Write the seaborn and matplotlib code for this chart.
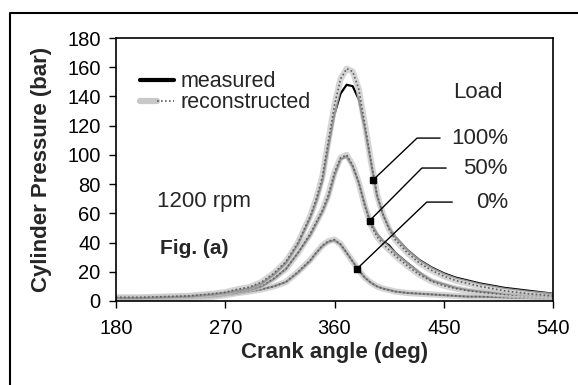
import matplotlib
matplotlib.use('Agg')
import matplotlib.pyplot as plt
import seaborn as sns
from matplotlib.lines import Line2D
from matplotlib.legend_handler import HandlerTuple

# --- data ---
ANGLE = [180, 200, 220, 240, 260, 270, 280, 290, 300, 310, 320, 330, 340, 345, 350, 355, 360, 365,
         370, 375, 380, 385, 390, 395, 400, 405, 410, 420, 430, 440, 450, 460, 470, 480, 500, 520, 540]

P100_MEAS = [2, 2, 2.5, 3, 4.5, 5.5, 7, 8.5, 12, 18, 26, 39, 57, 68, 82, 106, 128, 142,
             148, 147, 138, 118, 95, 72, 59, 50, 44, 35, 28, 23, 19, 16, 14, 12, 9, 7, 5]
P100_REC = [2.5, 2.5, 3, 3.5, 5, 6, 8, 9.5, 13, 19, 27, 40, 58, 70, 85, 110, 134, 152,
            159, 157, 145, 121, 96, 73, 59, 49, 42, 33, 26, 21, 17, 14, 12, 10, 7, 5, 3.5]
P50_MEAS = [1.5, 1.5, 2, 2.5, 3.5, 4.5, 6, 7.5, 10, 15, 22, 33, 45, 53, 61, 71, 86, 97,
            99, 92, 81, 66, 53, 46, 41, 38, 33, 26, 19.5, 14, 11.5, 9, 7.5, 6.5, 5, 4, 3]
P50_REC = [2, 2, 2.5, 3, 4, 5, 6.5, 8, 10.5, 15.5, 22, 33, 46, 54, 62, 73, 88, 98,
           100, 93, 81, 65, 52, 44, 39, 35, 31, 24, 18, 13.5, 10.5, 8.5, 7, 6, 4.5, 3.5, 2.5]
P0_MEAS = [1.5, 1.5, 1.5, 2, 3, 4, 5, 6.5, 8, 10, 13, 19.5, 27.5, 33, 37.5, 40.5, 41.5, 38.5,
           33, 27, 21, 16, 12.5, 10, 8.5, 7.5, 6.5, 5.5, 5, 4.5, 4, 3.5, 3, 3, 2.5, 2, 1.5]
P0_REC = [1.5, 1.5, 1.5, 2, 3, 4, 5.5, 6.5, 8, 10, 13, 20, 28, 33, 38, 41, 42, 39,
          33, 27, 21, 16, 12.5, 10, 8.5, 7.5, 6.5, 5.5, 5, 4.5, 4, 3.5, 3, 3, 2.5, 2, 1.5]

LOAD_LABELS = ['100%', '50%', '0%']
MARK_ANGLE = [392, 389, 378.5]
MARK_P = [83, 55, 22]
CORNER_ANGLE = [428, 432, 436]
LEADER_END = [447, 452, 457]
LEADER_P = [111.5, 91, 67.7]
LABEL_ANGLE = [456, 466, 477]

REC_BAND = '#c8c8c8'
REC_DOTS = '#5e5e5e'

sns.set_style('white')
plt.rcParams['font.family'] = ['Liberation Sans', 'DejaVu Sans']

fig = plt.figure(figsize=(5.78, 3.85), dpi=100)
ax = fig.add_axes([116 / 578, 1 - 301 / 385, 437 / 578, 263 / 385])

for meas, rec in [(P0_MEAS, P0_REC), (P50_MEAS, P50_REC), (P100_MEAS, P100_REC)]:
    sns.lineplot(x=ANGLE, y=meas, ax=ax, color='black', lw=1.6)
    sns.lineplot(x=ANGLE, y=rec, ax=ax, color=REC_BAND, lw=4.5, alpha=0.75)
    sns.lineplot(x=ANGLE, y=rec, ax=ax, color=REC_DOTS, lw=1.2, linestyle=(0, (1, 1.4)))

# leader lines and load labels
for lab, ma, mp, ca, le, lp, la in zip(LOAD_LABELS, MARK_ANGLE, MARK_P, CORNER_ANGLE,
                                       LEADER_END, LEADER_P, LABEL_ANGLE):
    ax.plot([ma, ca, le], [mp, lp, lp], color='black', lw=1.0)
    ax.plot([ma], [mp], marker='s', ms=4, color='black', ls='none')
    ax.text(la, lp, lab, fontsize=16, ha='left', va='center')
ax.text(457.6, 143, 'Load', fontsize=16, ha='left', va='center')
ax.text(214, 68, '1200 rpm', fontsize=16, ha='left', va='center')
ax.text(216, 36, 'Fig. (a)', fontsize=15, fontweight='bold', ha='left', va='center')

# legend
h_meas = Line2D([], [], color='black', lw=3)
h_rec = (Line2D([], [], color=REC_BAND, lw=4.5),
         Line2D([], [], color=REC_DOTS, lw=1.2, linestyle=(0, (1, 1.4))))
ax.legend([h_meas, h_rec], ['measured', 'reconstructed'], loc='upper left',
          bbox_to_anchor=(0.03, 0.915), frameon=False, fontsize=15.5, handlelength=1.6,
          handletextpad=0.3, labelspacing=0.0, borderpad=0,
          handler_map={tuple: HandlerTuple(ndivide=None)})

ax.set_xlim(180, 540)
ax.set_ylim(0, 180)
ax.set_xticks(range(180, 541, 90))
ax.set_yticks(range(0, 181, 20))
ax.tick_params(axis='both', direction='out', length=5, width=1, labelsize=14.5,
               bottom=True, left=True, colors='black')
ax.tick_params(axis='x', pad=8)
ax.tick_params(axis='y', pad=6)
for sp in ax.spines.values():
    sp.set_color('black')
    sp.set_linewidth(1.2)
ax.set_xlabel('Crank angle (deg)', fontsize=16, fontweight='bold', labelpad=3)
ax.set_ylabel('Cylinder Pressure (bar)', fontsize=16, fontweight='bold', labelpad=11)

# outer chart frame (only top and left edges visible in the crop)
fig.add_artist(Line2D([10 / 578, 10 / 578, 1], [0, 1 - 13 / 385, 1 - 13 / 385],
                      transform=fig.transFigure, color='black', lw=1.5))

fig.savefig('out.png', dpi=100)
